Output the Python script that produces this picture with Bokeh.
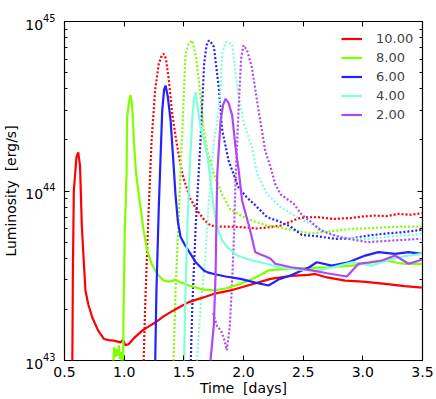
from bokeh.plotting import figure
from bokeh.models import FixedTicker, LogAxis, LinearAxis, Legend, LegendItem
from bokeh.embed import file_html
from bokeh.resources import INLINE

# Luminosity in units of 1e43 erg/s, time in days
labels = ["10.00", "8.00", "6.00", "4.00", "2.00"]
colors = ["#ff0000", "#80ff00", "#2222ff", "#80ffd8", "#b048f0"]

t_10 = [0.555, 0.565, 0.57, 0.578, 0.60, 0.615, 0.63, 0.645, 0.66, 0.676, 0.70, 0.732, 0.78, 0.83, 0.87, 0.913, 0.969, 0.99, 1.01, 1.039, 1.08, 1.151, 1.20, 1.263, 1.33, 1.389, 1.45, 1.542, 1.65, 1.749, 1.891, 2.05, 2.227, 2.40, 2.545, 2.60, 2.70, 2.853, 3.0, 3.188, 3.35, 3.495]
L_10 = [0.8, 0.8, 3.16, 10.0, 15.8, 16.9, 14.1, 6.3, 4.0, 2.57, 2.14, 1.80, 1.51, 1.34, 1.32, 1.31, 1.28, 1.32, 1.23, 1.25, 1.35, 1.50, 1.58, 1.68, 1.82, 1.93, 2.04, 2.21, 2.34, 2.47, 2.59, 2.79, 3.03, 3.16, 3.20, 3.24, 3.09, 2.96, 2.92, 2.83, 2.75, 2.69]
t_10d = [1.16, 1.175, 1.20, 1.23, 1.26, 1.29, 1.315, 1.332, 1.35, 1.375, 1.403, 1.44, 1.487, 1.55, 1.612, 1.67, 1.724, 1.80, 1.891, 2.0, 2.115, 2.2, 2.311, 2.40, 2.46, 2.53, 2.629, 2.75, 2.908, 3.0, 3.104, 3.20, 3.30, 3.40, 3.495]
L_10d = [0.8, 2.0, 6.3, 20.0, 39.8, 56.2, 63.1, 64.4, 60.3, 44.7, 28.5, 19.1, 12.6, 9.12, 7.67, 6.76, 6.25, 6.17, 6.17, 6.10, 6.01, 6.10, 6.25, 6.61, 6.89, 7.0, 7.0, 6.84, 6.93, 7.08, 7.16, 7.11, 7.33, 7.24, 7.40]

t_8 = [0.905, 0.915, 0.925, 0.935, 0.945, 0.955, 0.965, 0.975, 0.985, 0.99, 0.995, 1.005, 1.02, 1.025, 1.04, 1.053, 1.065, 1.075, 1.081, 1.10, 1.137, 1.16, 1.193, 1.23, 1.277, 1.332, 1.38, 1.43, 1.48, 1.542, 1.65, 1.752, 1.85, 1.975, 2.10, 2.21, 2.394, 2.517, 2.70, 2.908, 3.05, 3.188, 3.30, 3.356, 3.495]
L_8 = [0.8, 1.20, 1.05, 1.17, 1.07, 1.23, 1.02, 1.12, 0.8, 0.8, 2.0, 5.62, 12.6, 27.5, 33.1, 36.9, 33.1, 25.1, 19.9, 12.6, 8.02, 6.03, 4.46, 3.72, 3.24, 2.96, 2.92, 2.99, 2.88, 2.77, 2.63, 2.59, 2.66, 2.83, 3.09, 3.40, 3.48, 3.51, 3.55, 3.63, 3.76, 3.89, 3.76, 3.72, 3.72]
t_8d = [1.41, 1.43, 1.46, 1.49, 1.514, 1.54, 1.57, 1.60, 1.626, 1.668, 1.696, 1.752, 1.82, 1.891, 2.031, 2.199, 2.366, 2.562, 2.70, 2.908, 3.05, 3.188, 3.35, 3.495]
L_8d = [0.8, 2.51, 7.94, 25.1, 64.6, 74.1, 77.3, 63.1, 44.9, 22.8, 17.3, 12.6, 9.55, 7.76, 6.84, 6.25, 5.98, 5.62, 5.75, 5.98, 6.03, 6.11, 6.17, 6.17]

t_6 = [1.258, 1.27, 1.29, 1.305, 1.319, 1.335, 1.347, 1.365, 1.389, 1.41, 1.43, 1.45, 1.472, 1.51, 1.556, 1.60, 1.668, 1.70, 1.752, 1.85, 1.975, 2.10, 2.21, 2.30, 2.394, 2.489, 2.55, 2.615, 2.74, 2.88, 3.02, 3.13, 3.27, 3.383, 3.495]
L_6 = [0.8, 2.51, 7.94, 15.8, 29.9, 39.8, 41.9, 36.3, 26.1, 15.8, 9.55, 6.61, 5.37, 4.79, 4.26, 3.80, 3.40, 3.31, 3.24, 3.13, 3.03, 2.88, 2.77, 3.02, 3.17, 3.40, 3.55, 3.80, 3.63, 3.80, 4.16, 4.36, 4.26, 4.36, 4.26]
t_6d = [1.555, 1.57, 1.60, 1.64, 1.67, 1.69, 1.71, 1.735, 1.752, 1.793, 1.822, 1.875, 1.958, 2.03, 2.087, 2.199, 2.30, 2.394, 2.49, 2.60, 2.77, 2.90, 3.048, 3.20, 3.327, 3.495]
L_6d = [0.8, 2.0, 6.31, 20.0, 56.2, 72.4, 77.3, 74.1, 70.8, 40.7, 22.8, 15.1, 10.5, 9.12, 8.39, 7.0, 6.61, 6.17, 5.50, 5.43, 5.22, 5.25, 5.46, 5.62, 5.71, 5.90]

t_4 = [1.50, 1.51, 1.53, 1.55, 1.57, 1.585, 1.598, 1.615, 1.64, 1.668, 1.70, 1.724, 1.75, 1.78, 1.82, 1.864, 1.948, 2.07, 2.17, 2.30, 2.394, 2.534, 2.629, 2.75, 2.908, 3.076, 3.243, 3.35, 3.495]
L_4 = [0.8, 2.0, 6.31, 14.1, 26.1, 34.7, 38.3, 31.6, 23.8, 19.9, 15.8, 11.5, 7.94, 6.12, 5.13, 4.66, 4.16, 3.89, 3.76, 3.55, 3.48, 3.40, 3.40, 3.55, 3.80, 3.63, 3.98, 4.12, 4.26]
t_4d = [1.60, 1.62, 1.64, 1.68, 1.70, 1.752, 1.79, 1.808, 1.822, 1.85, 1.905, 1.947, 2.003, 2.07, 2.115, 2.199, 2.31, 2.45, 2.562, 2.757, 2.90, 3.037, 3.20, 3.316, 3.495]
L_4d = [0.8, 1.26, 2.06, 3.98, 7.08, 20.0, 28.2, 39.8, 64.6, 75.5, 73.8, 40.9, 25.1, 18.2, 12.6, 9.55, 8.02, 7.0, 6.4, 5.46, 5.25, 5.22, 5.37, 5.46, 5.58]

t_2 = [1.71, 1.73, 1.752, 1.766, 1.78, 1.808, 1.83, 1.85, 1.875, 1.905, 1.933, 1.96, 1.988, 2.056, 2.098, 2.143, 2.182, 2.227, 2.266, 2.40, 2.573, 2.70, 2.866, 2.964, 3.06, 3.16, 3.27, 3.383, 3.495]
L_2 = [0.8, 1.12, 1.64, 3.24, 12.6, 26.1, 32.4, 35.0, 33.1, 27.9, 18.2, 13.2, 8.79, 5.85, 4.36, 4.22, 4.12, 3.98, 3.72, 3.55, 3.40, 3.27, 3.13, 3.72, 3.80, 3.89, 4.16, 3.72, 3.93]
t_2d = [1.745, 1.78, 1.81, 1.84, 1.86, 1.885, 1.90, 1.916, 1.935, 1.96, 1.98, 2.0, 2.03, 2.07, 2.126, 2.182, 2.227, 2.266, 2.311, 2.422, 2.489, 2.562, 2.646, 2.813, 3.037, 3.26, 3.484]
L_2d = [1.9, 1.58, 1.51, 1.32, 1.15, 1.58, 2.51, 4.47, 12.6, 31.6, 60.3, 72.4, 67.6, 53.7, 29.9, 17.3, 13.8, 11.0, 9.55, 8.39, 7.24, 6.61, 5.85, 5.33, 4.99, 5.11, 5.22]

x_ticks = [0.5, 1.0, 1.5, 2.0, 2.5, 3.0, 3.5]
x_tick_labels = ["0.5", "1.0", "1.5", "2.0", "2.5", "3.0", "3.5"]
y_ticks = [1e43, 1e44, 1e45]
y_minor = [k * 1e43 for k in range(2, 10)] + [k * 1e44 for k in range(2, 10)]

UNIT = 1e43
FONT = "DejaVu Sans"

p = figure(width=436, height=399, x_range=(0.5, 3.5), y_range=(1e43, 1e45),
           y_axis_type="log", output_backend="svg", toolbar_location=None,
           min_border_left=64, min_border_right=14, min_border_top=21, min_border_bottom=39)
p.xgrid.visible = False
p.ygrid.visible = False
p.outline_line_color = "black"
p.outline_line_width = 1.2
p.background_fill_color = "white"

series = [(t_10, L_10, t_10d, L_10d), (t_8, L_8, t_8d, L_8d), (t_6, L_6, t_6d, L_6d),
          (t_4, L_4, t_4d, L_4d), (t_2, L_2, t_2d, L_2d)]
items = []
for (ts, Ls, td, Ld), lab, c in zip(series, labels, colors):
    p.line(td, [v * UNIT for v in Ld], line_color=c, line_width=2.2, line_dash="2 2")
for (ts, Ls, td, Ld), lab, c in zip(series, labels, colors):
    r = p.line(ts, [v * UNIT for v in Ls], line_color=c, line_width=2.2)
    items.append(LegendItem(label=lab, renderers=[r]))

leg = Legend(items=items, location=(277, 236), border_line_color=None,
             background_fill_alpha=0, padding=9, margin=0, spacing=0,
             label_height=19, glyph_height=19, glyph_width=21, label_standoff=14,
             label_text_font=FONT, label_text_font_size="13px")
p.add_layout(leg, "center")

xa = p.xaxis[0]
xa.ticker = FixedTicker(ticks=x_ticks)
xa.major_label_overrides = {t: s for t, s in zip(x_ticks, x_tick_labels)}
ya = p.yaxis[0]
ya.ticker = FixedTicker(ticks=y_ticks, minor_ticks=y_minor)

for ax in (xa, ya):
    ax.axis_line_color = None
    ax.major_tick_in = 5
    ax.major_tick_out = 0
    ax.minor_tick_in = 3
    ax.minor_tick_out = 0
    ax.major_label_text_font = FONT
    ax.major_label_text_font_size = "14px"
    ax.major_label_text_color = "black"
    ax.axis_label_text_font = FONT
    ax.axis_label_text_font_size = "14px"
    ax.axis_label_text_font_style = "normal"
    ax.axis_label_text_color = "black"
xa.major_label_standoff = 6
xa.axis_label_standoff = 0
ya.major_label_standoff = 9
ya.axis_label_standoff = 3
xa.minor_tick_line_color = None
xa.axis_label = "Time\u00a0 [days]"
ya.axis_label = "Luminosity\u00a0 [erg/s]"

ra = LogAxis(ticker=FixedTicker(ticks=y_ticks, minor_ticks=y_minor), axis_line_color=None,
             major_tick_in=5, major_tick_out=0, minor_tick_in=3, minor_tick_out=0,
             major_label_overrides={t: "" for t in y_ticks})
p.add_layout(ra, "right")
ta = LinearAxis(ticker=FixedTicker(ticks=x_ticks), axis_line_color=None,
                major_tick_in=5, major_tick_out=0, minor_tick_line_color=None,
                major_label_overrides={t: "" for t in x_ticks})
p.add_layout(ta, "above")

open("out.html", "w").write(file_html(p, INLINE))
